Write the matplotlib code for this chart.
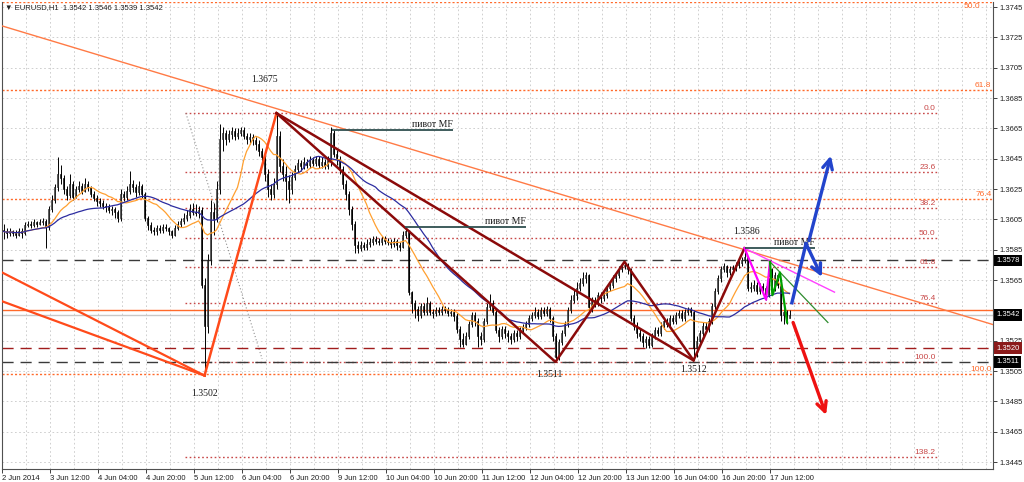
import matplotlib.pyplot as plt
import matplotlib.transforms as mtransforms
from matplotlib.patches import Rectangle
import numpy as np
import pandas as pd

# ---- EURUSD H1 candles, values in pips above 1.3500 (bar 0 = 2 Jun 20:00)
first_open = 98
close_pips = [
    97, 96, 97, 96, 95, 97, 96, 101, 102, 101, 103, 102, 103, 104, 100, 112,
    118, 126, 135, 132, 125, 121, 128, 120, 125, 127, 124, 128, 126, 122, 119, 117,
    116, 114, 113, 111, 112, 110, 106, 122, 120, 124, 128, 126, 123, 127, 122, 106,
    101, 98, 97, 99, 98, 100, 99, 97, 95, 99, 102, 104, 106, 108, 112, 110,
    109, 111, 62, 35, 78, 110, 105, 125, 158, 162, 158, 161, 163, 160, 162, 164,
    160, 158, 159, 157, 155, 150, 146, 135, 125, 122, 128, 160, 140, 135, 130, 125,
    133, 138, 142, 140, 143, 141, 144, 142, 145, 141, 143, 140, 144, 162, 148, 145,
    138, 128, 122, 112, 102, 88, 86, 88, 87, 89, 90, 92, 91, 90, 92, 91,
    90, 89, 91, 88, 87, 95, 97, 57, 50, 46, 42, 48, 44, 50, 44, 43,
    45, 44, 46, 45, 43, 44, 41, 33, 26, 23, 28, 36, 42, 38, 28, 26,
    38, 47, 50, 44, 32, 28, 33, 30, 28, 26, 30, 28, 32, 34, 36, 40,
    42, 44, 41, 45, 43, 46, 40, 28, 14, 24, 30, 36, 45, 52, 55, 60,
    63, 66, 68, 47, 52, 50, 55, 53, 55, 60, 62, 66, 68, 72, 74, 75,
    72, 40, 35, 30, 28, 24, 26, 22, 28, 32, 30, 35, 38, 36, 40, 38,
    42, 43, 40, 44, 45, 44, 20, 25, 30, 35, 33, 38, 48, 58, 66, 72,
    74, 70, 72, 73, 75, 76, 78, 80, 60, 60, 62, 58, 61, 60, 55, 72,
    60, 68, 62, 42, 44, 40, 42,
]
high_pips = [
    102, 99, 99, 98, 98, 99, 99, 103, 104, 104, 105, 104, 105, 106, 105, 114,
    121, 128, 146, 141, 134, 127, 135, 130, 127, 130, 129, 132, 130, 127, 124, 121,
    119, 118, 116, 115, 114, 113, 111, 125, 124, 127, 137, 131, 128, 130, 128, 123,
    107, 103, 100, 101, 101, 102, 102, 100, 98, 101, 104, 106, 109, 111, 115, 116,
    115, 114, 113, 66, 82, 118, 116, 130, 168, 166, 164, 164, 166, 165, 165, 166,
    166, 162, 162, 161, 159, 157, 152, 148, 138, 128, 132, 174, 163, 145, 140, 134,
    136, 141, 145, 144, 146, 145, 147, 146, 147, 147, 146, 145, 147, 166, 164, 151,
    147, 140, 131, 124, 114, 104, 91, 91, 90, 92, 93, 94, 94, 93, 94, 94,
    93, 92, 93, 92, 90, 97, 100, 98, 58, 52, 48, 50, 50, 54, 51, 46,
    47, 47, 48, 48, 47, 46, 46, 43, 35, 30, 31, 38, 44, 44, 40, 31,
    40, 50, 56, 52, 45, 34, 35, 35, 32, 30, 32, 32, 34, 36, 38, 42,
    44, 47, 46, 47, 47, 48, 47, 41, 30, 26, 32, 38, 47, 55, 59, 64,
    66, 70, 70, 69, 54, 54, 57, 57, 57, 62, 64, 68, 70, 74, 76, 77,
    76, 73, 42, 37, 33, 30, 28, 28, 30, 34, 34, 37, 40, 40, 42, 42,
    44, 45, 45, 46, 47, 47, 45, 28, 32, 37, 37, 40, 50, 60, 68, 74,
    76, 75, 74, 75, 77, 78, 80, 86, 81, 64, 65, 64, 63, 63, 61, 77,
    73, 70, 69, 63, 46, 45, 45,
]
low_pips = [
    92, 93, 94, 94, 93, 94, 93, 95, 100, 99, 100, 100, 101, 101, 86, 98,
    110, 116, 124, 128, 122, 118, 119, 118, 119, 123, 122, 123, 124, 120, 117, 114,
    113, 112, 110, 109, 108, 106, 103, 104, 117, 118, 122, 123, 120, 121, 119, 104,
    98, 96, 95, 95, 96, 96, 97, 95, 93, 94, 98, 100, 102, 104, 106, 108,
    107, 106, 60, 2, 30, 75, 95, 103, 122, 150, 154, 156, 158, 157, 158, 160,
    158, 155, 155, 154, 151, 147, 142, 130, 120, 118, 119, 125, 136, 130, 118, 116,
    122, 131, 136, 137, 138, 139, 139, 140, 140, 139, 139, 138, 138, 140, 146, 141,
    135, 125, 118, 108, 98, 83, 83, 84, 85, 85, 87, 88, 89, 88, 88, 89,
    88, 86, 87, 85, 84, 86, 93, 55, 43, 40, 38, 40, 42, 42, 42, 40,
    41, 42, 42, 43, 41, 41, 38, 30, 21, 21, 22, 26, 34, 35, 21, 22,
    24, 36, 45, 42, 30, 24, 26, 27, 24, 23, 24, 25, 26, 30, 32, 34,
    38, 40, 39, 39, 41, 41, 37, 25, 11, 12, 22, 28, 34, 43, 50, 52,
    58, 61, 63, 45, 44, 47, 48, 50, 51, 53, 58, 60, 64, 66, 70, 72,
    69, 38, 32, 27, 25, 21, 20, 20, 21, 26, 28, 28, 33, 34, 34, 36,
    36, 40, 38, 38, 42, 41, 12, 14, 22, 28, 30, 31, 36, 46, 56, 64,
    70, 67, 68, 70, 71, 73, 74, 76, 58, 57, 58, 56, 56, 57, 52, 54,
    57, 58, 60, 38, 36, 36, 40,
]

tick_labels = ['2 Jun 2014', '3 Jun 12:00', '4 Jun 04:00', '4 Jun 20:00', '5 Jun 12:00',
               '6 Jun 04:00', '6 Jun 20:00', '9 Jun 12:00', '10 Jun 04:00', '10 Jun 20:00',
               '11 Jun 12:00', '12 Jun 04:00', '12 Jun 20:00', '13 Jun 12:00', '16 Jun 04:00',
               '16 Jun 20:00', '17 Jun 12:00']

# ---- chart objects (bar index, price)
zz_bars = [91, 184, 207, 230, 247]
zz_prices = [1.3675, 1.3511, 1.3577, 1.3512, 1.3586]
up_leg = ([67, 91], [1.3502, 1.3675])
left_legs = [([-0.5, 67], [1.3570, 1.3502]), ([-0.5, 67], [1.3551, 1.3502])]
diag_leg = ([91, 230], [1.3675, 1.3512])
trend_pts = [(91, 1.3678), (247, 1.3585)]
pink_zz = ([247, 254.2, 255.5], [1.3586, 1.3552, 1.3577])
pink_line = ([247, 277], [1.3586, 1.3557])
green_zz = ([255.5, 256.3, 258.8, 261.2], [1.3577, 1.3555, 1.3570, 1.3537])
green_line = ([255.5, 274.8], [1.3577, 1.3537])
blue_path = ([262.8, 267.5, 272.8], [1.3550, 1.3589, 1.3567])
blue_long = ([268.5, 275.8], [1.3591, 1.3647])
red_arrow = ([263.2, 274.2], [1.3537, 1.3476])
pivots = [(109.5, 149.8, 1.3664), (133.8, 174.2, 1.3600), (247, 270.5, 1.3586)]
price_notes = [(87, 1.3697, '1.3675'), (67, 1.3490, '1.3502'), (182, 1.3503, '1.3511'),
               (230, 1.3506, '1.3512'), (247.5, 1.3597, '1.3586')]

fib_a_hi, fib_a_lo = 1.3993, 1.3503          # big fib (0 -> 100)
fib_a_levels = [50.0, 61.8, 76.4, 100.0]
fib_b_hi, fib_b_lo = 1.3675, 1.3511          # small fib
fib_b_levels = [0.0, 23.6, 38.2, 50.0, 61.8, 76.4, 100.0, 138.2]
fib_b_span = (60.5, 311)
fib_b_trend = ([60.8, 86.2], [1.3675, 1.3513])

dark_levels = [1.3578, 1.3511]
red_level = 1.3520
orange_level = 1.3545
bid = 1.3542

# ---- data prep
pip, base = 0.0001, 1.35
c = base + np.array(close_pips) * pip
o = np.r_[base + first_open * pip, c[:-1]]
h = np.maximum(base + np.array(high_pips) * pip, np.maximum(o, c))
l = np.minimum(base + np.array(low_pips) * pip, np.minimum(o, c))
idx = np.arange(len(c))
ma_fast = pd.Series(c).rolling(13, min_periods=1).mean()
ma_slow = pd.Series(c).rolling(34, min_periods=1).mean()

# ---- figure
fig = plt.figure(figsize=(10.24, 4.82), dpi=100)
ax = fig.add_axes([2 / 1024, 13 / 482, 991 / 1024, 467 / 482])
ax.set_xlim(-0.5, -0.5 + 991 / 3)
ymax = 1.37483
ax.set_ylim(1.34404, ymax)
ax.spines['top'].set_visible(False)
for s in ['left', 'bottom', 'right']:
    ax.spines[s].set_color('#505050')
    ax.spines[s].set_linewidth(0.8)

yt = np.round(np.arange(1.3445, 1.37451, 0.002), 4)
ax.set_yticks(yt)
# the 1.3545 label sits under the price boxes in the terminal
ax.set_yticklabels(['' if abs(v - 1.3545) < 1e-6 else f'{v:.4f}' for v in yt])
ax.yaxis.tick_right()
xt = np.arange(len(tick_labels)) * 16 - 0.5
ax.set_xticks(xt)
ax.set_xticklabels(tick_labels)
ax.set_xticks(np.arange(0, 330, 8) - 0.5, minor=True)
for lbl in ax.get_xticklabels():
    lbl.set_ha('left')
ax.tick_params(axis='both', which='major', labelsize=5.5, length=3, width=0.6,
               pad=1.5, colors='#202020')
ax.tick_params(axis='x', which='minor', length=0)
for lbl in ax.get_xticklabels() + ax.get_yticklabels():
    lbl.set_family('Liberation Sans')
ax.grid(axis='x', which='both', color='#c8c8c8', ls=(0, (2, 3)), lw=0.6)
ax.grid(axis='y', which='major', color='#c8c8c8', ls=(0, (2, 3)), lw=0.6)
ax.set_axisbelow(True)

# ---- horizontal levels
for lv in fib_a_levels:
    p = fib_a_hi - lv / 100 * (fib_a_hi - fib_a_lo)
    ax.axhline(p, color='#ff6a2a', ls=(0, (1.5, 1.5)), lw=1.0, zorder=1.5)
    if p + 0.0003 < ymax:
        ax.text(329.3, p + 0.00006, f'{lv:.1f}', color='#ff6a2a', fontsize=6,
                ha='right', va='bottom', family='Liberation Sans')
    else:
        ax.text(325.5, p - 0.00004, f'{lv:.1f}', color='#ff6a2a', fontsize=6,
                ha='right', va='top', family='Liberation Sans')
for lv in fib_b_levels:
    p = fib_b_hi - lv / 100 * (fib_b_hi - fib_b_lo)
    ax.hlines(p, *fib_b_span, color='#c84848', ls=(0, (1.2, 1.8)), lw=1.0, zorder=1.5)
    ax.text(fib_b_span[1] - 0.3, p + 0.00006, f'{lv:.1f}', color='#c84848',
            fontsize=6, ha='right', va='bottom', family='Liberation Sans')
ax.plot(*fib_b_trend, color='#909090', ls=(0, (1, 2)), lw=0.8, zorder=1.5)

for lv in dark_levels:
    ax.axhline(lv, color='#3a3a3a', ls=(0, (8, 5)), lw=1.0, zorder=1.6)
ax.axhline(red_level, color='#a01c1c', ls=(0, (8, 5)), lw=1.0, zorder=1.6)
ax.axhline(orange_level, color='#ff6a2a', lw=1.0, zorder=1.6)
ax.axhline(bid, color='#c8c8c8', lw=1.0, zorder=1.6)

# ---- candles
up = c >= o
ax.vlines(idx, l, h, color='black', lw=0.7, zorder=3)
body_lo = np.minimum(o, c)
body_h = np.maximum(np.abs(c - o), 0.00002)
ax.bar(idx[up], body_h[up], bottom=body_lo[up], width=0.62, color='#b0b0b0',
       edgecolor='black', lw=0.4, zorder=4)
ax.bar(idx[~up], body_h[~up], bottom=body_lo[~up], width=0.62, color='black',
       edgecolor='black', lw=0.4, zorder=4)

# ---- moving averages
ax.plot(idx, ma_fast, color='#ffa030', lw=0.9, zorder=5)
ax.plot(idx, ma_slow, color='#2c2ca0', lw=0.9, zorder=5)

# ---- trend lines and zigzags
ax.axline(trend_pts[0], trend_pts[1], color='#ff7a45', lw=1.0, zorder=5)
for xs, ys in left_legs:
    ax.plot(xs, ys, color='#ff4a1a', lw=1.6, zorder=6)
ax.plot(*up_leg, color='#ff4a1a', lw=1.8, zorder=6)
ax.plot(zz_bars, zz_prices, color='#8b0a0a', lw=1.8, zorder=6)
ax.plot(*diag_leg, color='#8b0a0a', lw=1.8, zorder=6)
ax.plot(*pink_line, color='#ff40ff', lw=1.0, zorder=6)
ax.plot(*pink_zz, color='#ff00ff', lw=1.6, zorder=6)
ax.plot(*green_line, color='#2e8b2e', lw=0.9, zorder=6)
ax.plot(*green_zz, color='#00a000', lw=1.6, zorder=6)

for x0, x1, p in pivots:
    ax.hlines(p, x0, x1, color='#2f4f4f', lw=1.3, zorder=6)
    ax.text(x1, p + 0.00008, 'пивот MF', fontsize=7, family='Liberation Serif',
            ha='right', va='bottom', color='#1a1a1a', zorder=7)

for xb, p, t in price_notes:
    ax.text(xb, p, t, fontsize=7, family='Liberation Serif', ha='center',
            va='center', color='#1a1a1a', zorder=7)

# ---- scenario arrows
head = dict(arrowstyle='->,head_length=0.7,head_width=0.35', lw=2.4,
            shrinkA=0, shrinkB=0)
ax.plot(blue_path[0][:-1], blue_path[1][:-1], color='#2244cc', lw=2.4, zorder=8)
ax.annotate('', xy=(blue_path[0][-1], blue_path[1][-1]),
            xytext=(blue_path[0][-2], blue_path[1][-2]),
            arrowprops=dict(color='#2244cc', **head), zorder=8)
ax.annotate('', xy=(blue_long[0][1], blue_long[1][1]),
            xytext=(blue_long[0][0], blue_long[1][0]),
            arrowprops=dict(color='#2244cc', **head), zorder=8)
ax.annotate('', xy=(red_arrow[0][1], red_arrow[1][1]),
            xytext=(red_arrow[0][0], red_arrow[1][0]),
            arrowprops=dict(color='#ee1111', **head), zorder=8)

# ---- price boxes on the right scale
tr = mtransforms.blended_transform_factory(ax.transAxes, ax.transData)
# orange line marker, mostly hidden behind the bid box
ax.add_patch(Rectangle((1.001, bid + 0.0001), 0.028, 0.0003, transform=tr,
                       fc='#ff5a1a', ec='none', clip_on=False, zorder=9))
boxes = [(bid, f'{bid:.4f}', 'black'),
         (dark_levels[0], f'{dark_levels[0]:.4f}', 'black'),
         (dark_levels[1], f'{dark_levels[1]:.4f}', 'black'),
         (red_level, f'{red_level:.4f}', '#8b1a1a')]
for p, t, fc in boxes:
    ax.text(1.003, p, t, transform=tr, fontsize=5.5, color='white', ha='left',
            va='center', family='Liberation Sans', clip_on=False, zorder=10,
            bbox=dict(boxstyle='square,pad=0.3', fc=fc, ec='none'))

fig.text(5 / 1024, 1 - 8 / 482, '▼ EURUSD,H1  1.3542 1.3546 1.3539 1.3542',
         fontsize=5.5, family=['Liberation Sans', 'DejaVu Sans'], va='center',
         color='#202020')

fig.savefig('out.png', dpi=100)
